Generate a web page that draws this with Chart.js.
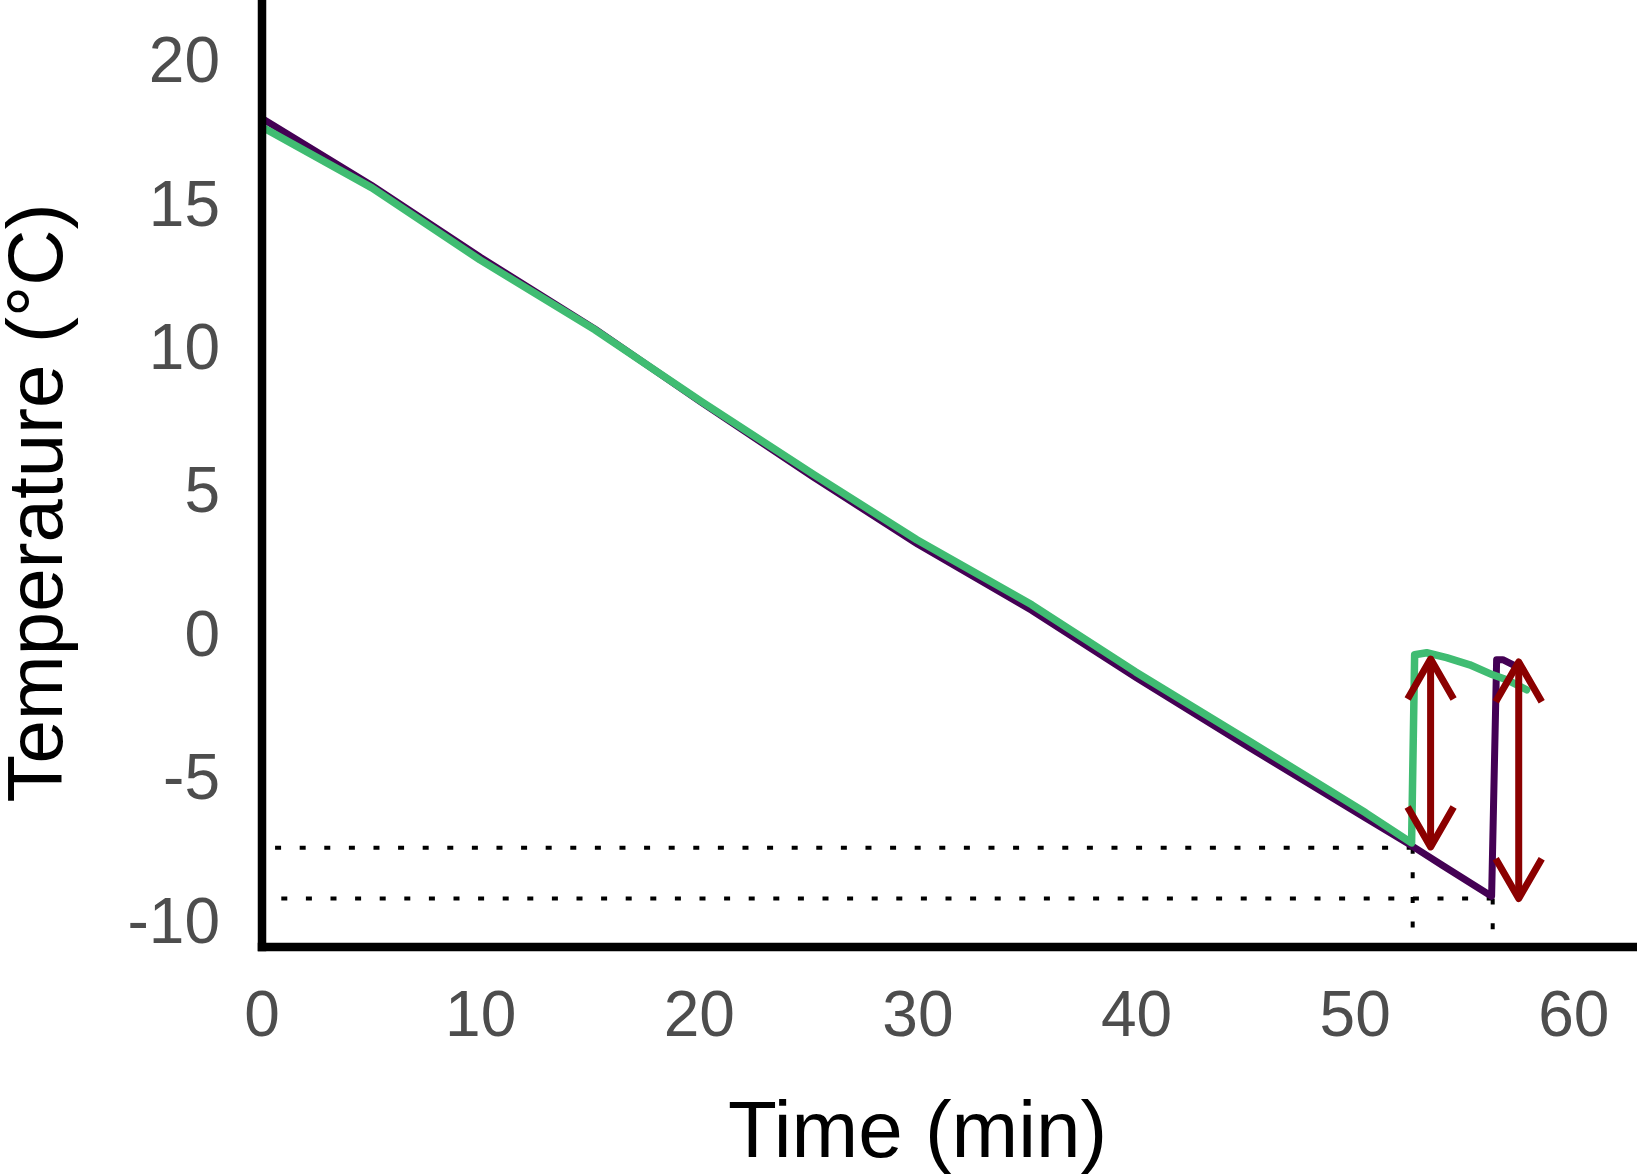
<!DOCTYPE html>
<html><head><meta charset="utf-8">
<script src="https://cdn.jsdelivr.net/npm/chart.js@4.4.1/dist/chart.umd.min.js"></script>
<style>html,body{margin:0;padding:0;background:#fff;overflow:hidden}</style>
</head><body>
<canvas id="c" width="1640" height="1175"></canvas>
<script>
// ---- data ----
const xTicks = [0, 10, 20, 30, 40, 50, 60];
const yTicks = [-10, -5, 0, 5, 10, 15, 20];
const xRange = [0, 62.89];
const yRange = [-10.94, 22.08];

const greenTime = [0, 5.03, 9.97, 15.23, 20.12, 25.24, 29.95, 35.21, 39.96, 45.22, 50.48, 52.58, 52.72, 53.27, 54.18, 55.24, 56.29, 56.93, 57.84];
const greenTemp = [17.65, 15.53, 13.02, 10.58, 8.07, 5.53, 3.26, 0.99, -1.35, -3.79, -6.26, -7.31, -0.75, -0.68, -0.85, -1.10, -1.45, -1.62, -1.97];

const purpleTime = [0, 5.0, 10.0, 15.2, 20.1, 25.2, 30.0, 35.2, 40.0, 45.2, 50.5, 52.63, 54.0, 56.24, 56.47, 56.75, 57.66];
const purpleTemp = [17.95, 15.62, 13.10, 10.62, 8.05, 5.45, 3.10, 0.80, -1.55, -4.00, -6.45, -7.43, -8.10, -9.17, -0.92, -0.92, -1.27];

const guideTimes = [52.63, 56.29];     // nucleation times (vertical dotted)
const guideLevels = [-7.48, -9.25];    // nucleation temperatures (horizontal dotted)

const arrowTimes = [53.45, 57.48];
const arrowTops = [-0.90, -1.00];
const arrowBottoms = [-7.45, -9.25];

// ---- styling ----
const FONT = "'Liberation Sans', Arial, Helvetica, sans-serif";
const GREEN = '#40BC72';
const PURPLE = '#440154';
const DARKRED = '#8B0000';

const toXY = (xs, ys) => xs.map((x, i) => ({x: x, y: ys[i]}));

const datasets = [
  {label: 'green', data: toXY(greenTime, greenTemp), borderColor: GREEN, borderWidth: 7.5, order: 1},
  {label: 'purple', data: toXY(purpleTime, purpleTemp), borderColor: PURPLE, borderWidth: 7, order: 2}
];
guideLevels.forEach((lvl, i) => {
  datasets.push({label: 'h' + i, data: [{x: guideTimes[i], y: lvl}, {x: xRange[0], y: lvl}],
    borderColor: '#000', borderWidth: 4, borderDash: [6, 18.6], borderCapStyle: 'butt', order: 3});
  datasets.push({label: 'v' + i, data: [{x: guideTimes[i], y: lvl}, {x: guideTimes[i], y: yRange[0]}],
    borderColor: '#000', borderWidth: 4, borderDash: [6, 18.6], borderCapStyle: 'butt', order: 3});
});
datasets.forEach(d => { d.pointRadius = 0; d.tension = 0; d.fill = false; d.borderJoinStyle = 'round'; if (!d.borderCapStyle) d.borderCapStyle = 'round'; });

const decor = {
  id: 'decor',
  afterDatasetsDraw(chart) {
    const ctx = chart.ctx, xs = chart.scales.x, ys = chart.scales.y, a = chart.chartArea;
    ctx.save();
    // axis lines
    ctx.strokeStyle = '#000'; ctx.lineWidth = 8.5; ctx.lineCap = 'butt';
    ctx.beginPath();
    ctx.moveTo(xs.getPixelForValue(xRange[0]), 0);
    ctx.lineTo(xs.getPixelForValue(xRange[0]), a.bottom + 4.25);
    ctx.stroke();
    ctx.beginPath();
    ctx.moveTo(xs.getPixelForValue(xRange[0]) - 4.25, a.bottom);
    ctx.lineTo(a.right, a.bottom);
    ctx.stroke();
    // arrows
    ctx.strokeStyle = DARKRED; ctx.lineWidth = 7; ctx.lineJoin = 'round'; ctx.lineCap = 'butt';
    const L = 46, ang = Math.PI / 6, dx = L * Math.sin(ang), dy = L * Math.cos(ang);
    arrowTimes.forEach((t, i) => {
      const x = xs.getPixelForValue(t), y1 = ys.getPixelForValue(arrowTops[i]), y2 = ys.getPixelForValue(arrowBottoms[i]);
      ctx.beginPath(); ctx.moveTo(x, y1); ctx.lineTo(x, y2); ctx.stroke();
      ctx.beginPath(); ctx.moveTo(x - dx, y1 + dy); ctx.lineTo(x, y1); ctx.lineTo(x + dx, y1 + dy); ctx.stroke();
      ctx.beginPath(); ctx.moveTo(x - dx, y2 - dy); ctx.lineTo(x, y2); ctx.lineTo(x + dx, y2 - dy); ctx.stroke();
    });
    ctx.restore();
  },
  afterDraw(chart) {
    const ctx = chart.ctx;
    ctx.save();
    ctx.fillStyle = '#000';
    ctx.textAlign = 'center'; ctx.textBaseline = 'alphabetic';
    ctx.font = '80px ' + FONT;
    ctx.fillText('Time (min)', 917.5, 1157);
    ctx.translate(62, 503);
    ctx.rotate(-Math.PI / 2);
    ctx.font = '78px ' + FONT;
    ctx.fillText('Temperature (°C)', 0, 0);
    ctx.restore();
  }
};

new Chart(document.getElementById('c'), {
  type: 'line',
  data: {datasets: datasets},
  options: {
    responsive: false,
    animation: false,
    layout: {padding: {left: 0, right: 3, top: 0, bottom: 0}},
    plugins: {legend: {display: false}, tooltip: {enabled: false}},
    scales: {
      x: {
        type: 'linear', min: xRange[0], max: xRange[1],
        grid: {display: false, drawTicks: false}, border: {display: false},
        ticks: {font: {family: FONT, size: 64}, color: '#4D4D4D', padding: 33, maxRotation: 0, autoSkip: false},
        afterBuildTicks(s) { s.ticks = xTicks.map(v => ({value: v})); },
        afterFit(s) { s.height = 228; s.paddingLeft = 0; s.paddingRight = 0; }
      },
      y: {
        type: 'linear', min: yRange[0], max: yRange[1],
        grid: {display: false, drawTicks: false}, border: {display: false},
        ticks: {font: {family: FONT, size: 64}, color: '#4D4D4D', padding: 42, labelOffset: 5, autoSkip: false},
        afterBuildTicks(s) { s.ticks = yTicks.map(v => ({value: v})); },
        afterFit(s) { s.width = 262; s.paddingTop = 0; s.paddingBottom = 0; }
      }
    }
  },
  plugins: [decor]
});
</script>
</body></html>
